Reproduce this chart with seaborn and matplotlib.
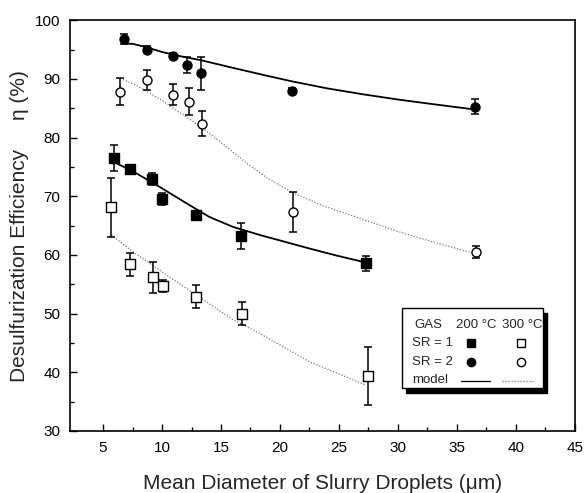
import numpy as np
import pandas as pd
import matplotlib
matplotlib.use("Agg")
import matplotlib.pyplot as plt
import seaborn as sns

sns.set_theme(style="ticks")
plt.rcParams["font.family"] = ["Liberation Sans", "DejaVu Sans"]

# 测量数据 (SR=2, 200 °C)
x_sr2_200 = [6.75, 8.7, 10.9, 12.15, 13.3, 21.0, 36.55]
y_sr2_200 = [96.8, 95.0, 94.0, 92.4, 91.0, 88.0, 85.3]
e_sr2_200 = [0.8, 0.6, 0.5, 1.3, 2.8, 0.4, 1.3]

# SR=2, 300 °C
x_sr2_300 = [6.42, 8.7, 10.9, 12.25, 13.35, 21.1, 36.6]
y_sr2_300 = [87.8, 89.9, 87.3, 86.1, 82.4, 67.3, 60.5]
e_sr2_300 = [2.3, 1.7, 1.8, 2.3, 2.2, 3.4, 1.0]

# SR=1, 200 °C
x_sr1_200 = [5.9, 7.25, 9.15, 10.0, 12.9, 16.7, 27.3]
y_sr1_200 = [76.5, 74.7, 73.0, 69.6, 66.8, 63.3, 58.6]
e_sr1_200 = [2.2, 0.4, 1.0, 1.0, 0.3, 2.2, 1.3]

# SR=1, 300 °C
x_sr1_300 = [5.65, 7.3, 9.25, 10.05, 12.9, 16.8, 27.45]
y_sr1_300 = [68.1, 58.4, 56.2, 54.7, 52.9, 50.0, 39.4]
e_sr1_300 = [5.1, 1.9, 2.6, 1.0, 2.0, 2.0, 4.9]

# 模型曲线
mx_sr2_200 = [6.7, 7.5, 8.7, 10.0, 11.5, 13.3, 16.0, 19.0, 21.0, 24.0, 27.0, 30.0, 33.0, 36.5]
my_sr2_200 = [96.0, 96.0, 95.4, 94.6, 93.9, 93.2, 91.9, 90.5, 89.6, 88.4, 87.4, 86.5, 85.7, 84.8]
mx_sr2_300 = [6.7, 8.0, 9.8, 11.5, 13.3, 15.0, 17.2, 19.0, 21.1, 23.5, 26.7, 30.0, 33.0, 36.4]
my_sr2_300 = [89.9, 88.7, 86.6, 84.3, 81.8, 79.2, 75.6, 73.0, 70.6, 68.5, 66.3, 64.0, 62.2, 60.3]
mx_sr1_200 = [5.85, 7.5, 9.8, 12.0, 14.0, 16.0, 18.3, 20.5, 22.5, 24.8, 27.3]
my_sr1_200 = [75.9, 74.3, 71.6, 68.9, 66.5, 64.8, 63.4, 62.2, 61.1, 59.9, 58.7]
mx_sr1_300 = [5.7, 7.5, 9.8, 12.0, 14.0, 16.0, 18.3, 20.5, 22.5, 24.8, 27.3]
my_sr1_300 = [63.4, 60.6, 57.4, 54.4, 51.7, 49.0, 46.6, 44.1, 41.8, 39.9, 37.8]

fig = plt.figure(figsize=(5.86, 4.93), dpi=100)
ax = fig.add_axes([0.1195, 0.1258, 0.8615, 0.833])

solid = dict(color="black", lw=1.3)
dotted = dict(color="#7a7a7a", lw=0.9, ls=(0, (1, 1.4)))

for mx, my, sty in [(mx_sr2_200, my_sr2_200, solid), (mx_sr1_200, my_sr1_200, solid),
                    (mx_sr2_300, my_sr2_300, dotted), (mx_sr1_300, my_sr1_300, dotted)]:
    sns.lineplot(x=mx, y=my, ax=ax, sort=False, estimator=None, **sty)

series = [
    (x_sr2_200, y_sr2_200, e_sr2_200, "o", "black"),
    (x_sr2_300, y_sr2_300, e_sr2_300, "o", "white"),
    (x_sr1_200, y_sr1_200, e_sr1_200, "s", "black"),
    (x_sr1_300, y_sr1_300, e_sr1_300, "s", "white"),
]
for xs, ys, es, mk, fc in series:
    ax.errorbar(xs, ys, yerr=es, fmt="none", ecolor="black", elinewidth=1.1,
                capsize=3, capthick=1.1, zorder=3)
    sns.scatterplot(x=xs, y=ys, ax=ax, marker=mk, s=42, color=fc,
                    edgecolor="black", linewidth=1.0, zorder=4)

ax.set_xlim(2.2, 45)
ax.set_ylim(30, 100)
ax.set_xticks([5, 10, 15, 20, 25, 30, 35, 40, 45])
ax.set_yticks([30, 40, 50, 60, 70, 80, 90, 100])
ax.set_xticks(np.arange(7.5, 45, 5), minor=True)
ax.set_yticks(np.arange(35, 100, 10), minor=True)
ax.tick_params(which="both", direction="in", top=False, right=False, labelsize=11,
               color="black", labelcolor="black")
ax.tick_params(which="major", length=5, width=1.0, pad=7)
ax.tick_params(which="minor", length=3, width=1.0)
for sp in ax.spines.values():
    sp.set_visible(True)
    sp.set_color("black")
    sp.set_linewidth(1.2)

ax.set_xlabel("Mean Diameter of Slurry Droplets (\u03bcm)", fontsize=15, labelpad=14)
ax.set_ylabel("Desulfurization Efficiency     \u03b7 (%)", fontsize=15, labelpad=4)

# 自定义图例框 (带阴影)
tr = ax.transAxes
def px(xp, yp):
    # 像素 -> 坐标轴坐标
    x0, y0 = 70, 431
    return (xp - x0) / 505, (y0 - yp) / 411

bx0, by0 = px(402, 388)
bx1, by1 = px(543, 308)
shadow = plt.Rectangle((bx0 + 4 / 505, by0 - 5 / 411), bx1 - bx0, by1 - by0, transform=tr,
                       facecolor="black", edgecolor="black", zorder=5)
box = plt.Rectangle((bx0, by0), bx1 - bx0, by1 - by0, transform=tr,
                    facecolor="white", edgecolor="black", lw=1.0, zorder=6)
ax.add_patch(shadow)
ax.add_patch(box)

fs = 9.5
for txt, xp, yp in [("GAS", 414, 325), ("200 \u00b0C", 456, 325), ("300 \u00b0C", 502, 325),
                    ("SR = 1", 412, 343), ("SR = 2", 412, 362), ("model", 412, 380)]:
    xa, ya = px(xp, yp)
    ax.text(xa, ya, txt, transform=tr, fontsize=fs, va="center", ha="left", zorder=7)

for mk, fc, xp, yp in [("s", "black", 471, 343), ("s", "white", 521, 343),
                       ("o", "black", 471, 362), ("o", "white", 521, 362)]:
    xa, ya = px(xp, yp)
    ax.plot([xa], [ya], marker=mk, ms=6, mfc=fc, mec="black", mew=1.0,
            transform=tr, zorder=7, ls="none")

xa0, ya = px(461, 381)
xa1, _ = px(490, 381)
ax.plot([xa0, xa1], [ya, ya], transform=tr, zorder=7, color="black", lw=0.9)
xa0, _ = px(502, 381)
xa1, _ = px(535, 381)
ax.plot([xa0, xa1], [ya, ya], transform=tr, zorder=7, **dotted)

fig.savefig("out.png", dpi=100)
